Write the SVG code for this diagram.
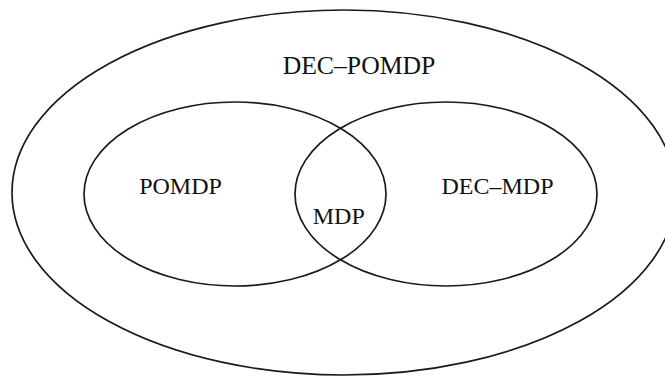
<svg xmlns="http://www.w3.org/2000/svg" width="665" height="376" viewBox="0 0 665 376">
<style>
.set{fill:none;stroke:#1a1a1a;stroke-width:1.7}
.lbl{font-family:"Liberation Serif","Times New Roman",serif;font-size:24px;fill:#111;text-anchor:middle}
</style>
<rect width="665" height="376" fill="#fff"/>
<g id="dec-pomdp">
<ellipse class="set" cx="344" cy="192.5" rx="332" ry="182.5"/>
<text class="lbl" x="359" y="73.5" style="font-size:25.7px">DEC–POMDP</text>
</g>
<g id="pomdp">
<ellipse class="set" cx="235" cy="194" rx="151" ry="92"/>
<text class="lbl" x="180.5" y="194">POMDP</text>
</g>
<g id="dec-mdp">
<ellipse class="set" cx="446" cy="194" rx="151" ry="92"/>
<text class="lbl" x="497.5" y="194">DEC–MDP</text>
</g>
<g id="mdp">
<text class="lbl" x="338.8" y="224">MDP</text>
</g>
<g id="connectors"/>
</svg>
